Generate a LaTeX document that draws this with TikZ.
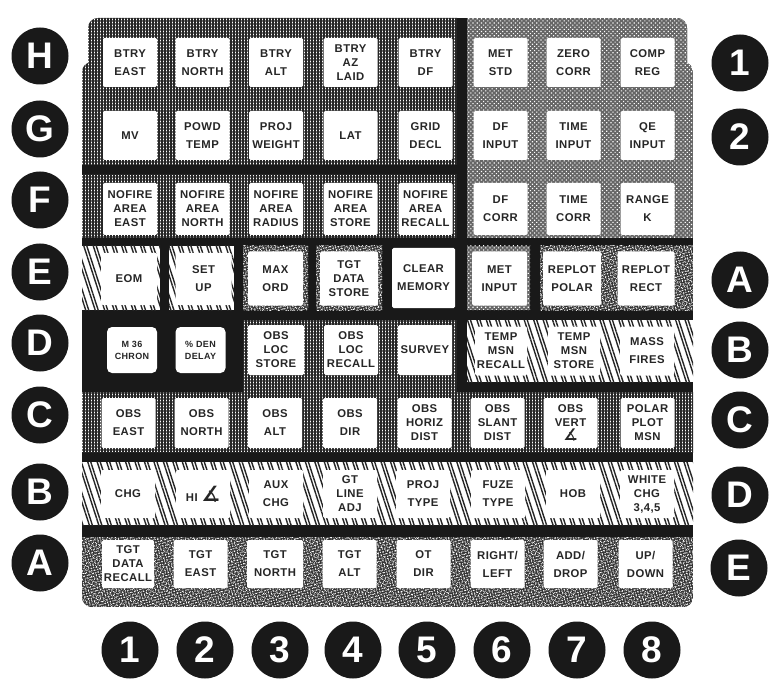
\documentclass[tikz,border=0pt]{standalone}
\usepackage{fontspec}
\setmainfont{Liberation Sans}
\newfontfamily\keyfont[LetterSpace=4]{Liberation Sans}
\newfontfamily\symfont{DejaVu Sans}
\usetikzlibrary{patterns.meta}
\definecolor{panelblack}{gray}{0.1}
\tikzset{
  keybox/.style={fill=white, rounded corners=1.5pt, inner sep=0pt, align=center, text=black!85,
    minimum width=54pt, minimum height=50pt},
  ktwo/.style={keybox, font=\keyfont\bfseries\fontsize{11.3}{18}\selectfont},
  kthree/.style={keybox, font=\keyfont\bfseries\fontsize{11.3}{14}\selectfont},
  ksmall/.style={keybox, rounded corners=5pt, minimum width=50pt, minimum height=46pt,
    font=\keyfont\bfseries\fontsize{9}{12}\selectfont},
  lab/.style={circle, fill=panelblack, text=white, minimum size=57pt, inner sep=0pt,
    font=\bfseries\fontsize{37}{37}\selectfont},
  gridfill/.style={fill=white, postaction={pattern={Hatch[angle=0,distance=3pt,line width=1.1pt]}, pattern color=black!85}},
  checkfill/.style={fill=black!60, postaction={pattern={Dots[angle=45,distance=3pt,radius=0.8pt]}, pattern color=white}},
  hatchfill/.style={fill=white,
    postaction={pattern={Lines[angle=108,distance=9pt,line width=1.4pt]}, pattern color=black!85},
    postaction={pattern={Lines[angle=108,distance=9pt,line width=1.4pt,xshift=3pt]}, pattern color=black!85}},
  specklefill/.style={fill=black!80,
    postaction={pattern={Dots[angle=17,distance=2.9pt,radius=0.65pt]}, pattern color=white},
    postaction={pattern={Dots[angle=63,distance=3.5pt,radius=0.7pt]}, pattern color=white},
    postaction={pattern={Dots[angle=5,distance=2.3pt,radius=0.45pt]}, pattern color=white!85!black}},
}
\begin{document}
\begin{tikzpicture}[x=1pt,y=-1pt]
\useasboundingbox (0,0) rectangle (774,687);
\fill[white] (0,0) rectangle (774,687);
% ---------- panel ----------
\begin{scope}
\clip[rounded corners=10pt] (88,18) rectangle (687,120) (82,62) rectangle (693,607);
\fill[panelblack] (82,18) rectangle (693,607);
\path[gridfill] (82,18) rectangle (457,165);
\path[gridfill] (82,175) rectangle (457,238);
\path[checkfill] (467,18) rectangle (693,238);
% row E cells
\path[hatchfill] (82,246) rectangle (160,310);
\path[hatchfill] (169,246) rectangle (234,310);
\path[specklefill] (243,246) rectangle (308,310);
\path[specklefill] (316,246) rectangle (382,310);
\path[checkfill] (467,246) rectangle (530,310);
\path[specklefill] (540,246) rectangle (693,310);
% rows D / C
\path[gridfill] (243,320) rectangle (457,392);
\path[gridfill] (82,392) rectangle (693,452);
\path[hatchfill] (467,320) rectangle (693,382);
% row B
\path[hatchfill] (82,462) rectangle (693,525);
% row A
\path[specklefill] (82,537) rectangle (693,607);
\end{scope}
% ---------- row H ----------
\node[ktwo, minimum height=49pt] (h1) at (130,62.5) {BTRY\\EAST};
\node[ktwo, minimum height=49pt] (h2) at (202.5,62.5) {BTRY\\NORTH};
\node[ktwo, minimum height=49pt] (h3) at (276,62.5) {BTRY\\ALT};
\node[kthree, minimum height=49pt] (h4) at (350.5,62.5) {BTRY\\AZ\\LAID};
\node[ktwo, minimum height=49pt] (h5) at (425.5,62.5) {BTRY\\DF};
\node[ktwo, minimum height=49pt] (h6) at (500.5,62.5) {MET\\STD};
\node[ktwo, minimum height=49pt] (h7) at (573.5,62.5) {ZERO\\CORR};
\node[ktwo, minimum height=49pt] (h8) at (647.5,62.5) {COMP\\REG};
% ---------- row G ----------
\node[ktwo, minimum height=49pt] (g1) at (130,135.5) {MV};
\node[ktwo, minimum height=49pt] (g2) at (202.5,135.5) {POWD\\TEMP};
\node[ktwo, minimum height=49pt] (g3) at (276,135.5) {PROJ\\WEIGHT};
\node[ktwo, minimum height=49pt] (g4) at (350.5,135.5) {LAT};
\node[ktwo, minimum height=49pt] (g5) at (425.5,135.5) {GRID\\DECL};
\node[ktwo, minimum height=49pt] (g6) at (500.5,135.5) {DF\\INPUT};
\node[ktwo, minimum height=49pt] (g7) at (573.5,135.5) {TIME\\INPUT};
\node[ktwo, minimum height=49pt] (g8) at (647.5,135.5) {QE\\INPUT};
% ---------- row F ----------
\node[kthree, minimum height=52pt] (f1) at (130,209) {NOFIRE\\AREA\\EAST};
\node[kthree, minimum height=52pt] (f2) at (202.5,209) {NOFIRE\\AREA\\NORTH};
\node[kthree, minimum height=52pt] (f3) at (276,209) {NOFIRE\\AREA\\RADIUS};
\node[kthree, minimum height=52pt] (f4) at (350.5,209) {NOFIRE\\AREA\\STORE};
\node[kthree, minimum height=52pt] (f5) at (425.5,209) {NOFIRE\\AREA\\RECALL};
\node[ktwo, minimum height=52pt] (f6) at (500.5,209) {DF\\CORR};
\node[ktwo, minimum height=52pt] (f7) at (573.5,209) {TIME\\CORR};
\node[ktwo, minimum height=52pt] (f8) at (647.5,209) {RANGE\\K};
% ---------- row E ----------
\node[ktwo, minimum width=56pt, minimum height=52pt] (e1) at (129,279) {EOM};
\node[ktwo, minimum width=56pt, minimum height=52pt] (e2) at (203.5,279) {SET\\UP};
\node[ktwo, minimum width=55pt, minimum height=54pt] (e3) at (275.5,278.5) {MAX\\ORD};
\node[kthree, minimum width=58pt, minimum height=54pt] (e4) at (349,278.5) {TGT\\DATA\\STORE};
\node[ktwo, minimum width=63pt, minimum height=60pt] (e5) at (423.5,278) {CLEAR\\MEMORY};
\node[ktwo, minimum width=55pt, minimum height=54pt] (e6) at (499.5,278.5) {MET\\INPUT};
\node[ktwo, minimum width=58pt, minimum height=54pt] (e7) at (572,278.5) {REPLOT\\POLAR};
\node[ktwo, minimum width=57pt, minimum height=54pt] (e8) at (646,278.5) {REPLOT\\RECT};
% ---------- row D ----------
\node[ksmall] (d1) at (132,350) {M 36\\CHRON};
\node[ksmall] (d2) at (200.5,350) {\% DEN\\DELAY};
\node[kthree, minimum width=56pt] (d3) at (276,350) {OBS\\LOC\\STORE};
\node[kthree, minimum width=54pt] (d4) at (351,350) {OBS\\LOC\\RECALL};
\node[ktwo, minimum width=54pt] (d5) at (425,350) {SURVEY};
\node[kthree, minimum width=52pt, minimum height=49pt] (d6) at (501,351) {TEMP\\MSN\\RECALL};
\node[kthree, minimum width=52pt, minimum height=49pt] (d7) at (574,351) {TEMP\\MSN\\STORE};
\node[ktwo, minimum width=54pt, minimum height=49pt] (d8) at (647,351) {MASS\\FIRES};
% ---------- row C ----------
\node[ktwo] (c1) at (128.5,423) {OBS\\EAST};
\node[ktwo] (c2) at (201.5,423) {OBS\\NORTH};
\node[ktwo] (c3) at (275,423) {OBS\\ALT};
\node[ktwo] (c4) at (350,423) {OBS\\DIR};
\node[kthree] (c5) at (424.5,423) {OBS\\HORIZ\\DIST};
\node[kthree] (c6) at (497.5,423) {OBS\\SLANT\\DIST};
\node[kthree] (c7) at (570.5,423) {OBS\\VERT\\{\symfont\fontsize{16}{13}\selectfont ∡}};
\node[kthree] (c8) at (647.5,423) {POLAR\\PLOT\\MSN};
% ---------- row B ----------
\node[ktwo, minimum height=48pt] (b1) at (128,494) {CHG};
\node[ktwo, minimum height=48pt] (b2) at (203,494) {HI {\symfont\fontsize{21}{18}\selectfont ∡}};
\node[ktwo, minimum height=48pt] (b3) at (276,494) {AUX\\CHG};
\node[kthree, minimum height=48pt] (b4) at (350,494) {GT\\LINE\\ADJ};
\node[ktwo, minimum height=48pt] (b5) at (423,494) {PROJ\\TYPE};
\node[ktwo, minimum height=48pt] (b6) at (498,494) {FUZE\\TYPE};
\node[ktwo, minimum height=48pt] (b7) at (573,494) {HOB};
\node[kthree, minimum height=48pt] (b8) at (647,494) {WHITE\\CHG\\3,4,5};
% ---------- row A ----------
\node[kthree, minimum width=52pt, minimum height=48pt] (a1) at (128,564) {TGT\\DATA\\RECALL};
\node[ktwo, minimum height=48pt] (a2) at (200.5,564) {TGT\\EAST};
\node[ktwo, minimum width=56pt, minimum height=48pt] (a3) at (275,564) {TGT\\NORTH};
\node[ktwo, minimum height=48pt] (a4) at (349.5,564) {TGT\\ALT};
\node[ktwo, minimum height=48pt] (a5) at (423.5,564) {OT\\DIR};
\node[ktwo, minimum height=48pt] (a6) at (497.5,564) {RIGHT/\\LEFT};
\node[ktwo, minimum height=48pt] (a7) at (570.5,564) {ADD/\\DROP};
\node[ktwo, minimum height=48pt] (a8) at (645.5,564) {UP/\\DOWN};
% ---------- left labels ----------
\node[lab] (lH) at (40,56) {H};
\node[lab] (lG) at (40,129) {G};
\node[lab] (lF) at (40,200) {F};
\node[lab] (lE) at (40,272) {E};
\node[lab] (lD) at (40,343) {D};
\node[lab] (lC) at (40,415) {C};
\node[lab] (lB) at (40,492) {B};
\node[lab] (lA) at (40,563) {A};
% ---------- right labels ----------
\node[lab] (r1) at (740,63) {1};
\node[lab] (r2) at (740,137) {2};
\node[lab] (rA) at (740,280) {A};
\node[lab] (rB) at (740,350) {B};
\node[lab] (rC) at (740,420) {C};
\node[lab] (rD) at (740,495) {D};
\node[lab] (rE) at (739,568) {E};
% ---------- bottom labels ----------
\node[lab] (n1) at (130,650) {1};
\node[lab] (n2) at (205,650) {2};
\node[lab] (n3) at (280,650) {3};
\node[lab] (n4) at (353,650) {4};
\node[lab] (n5) at (427,650) {5};
\node[lab] (n6) at (502,650) {6};
\node[lab] (n7) at (577,650) {7};
\node[lab] (n8) at (652,650) {8};
\end{tikzpicture}
\end{document}
